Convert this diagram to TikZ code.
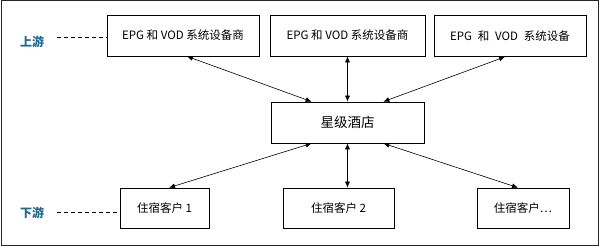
\documentclass[tikz,border=0pt]{standalone}
\usepackage{fontspec}
\setmainfont{Noto Sans CJK SC}
\usetikzlibrary{arrows.meta,positioning}

\begin{document}
\begin{tikzpicture}[
    x=1pt, y=-1pt,
    font=\fontsize{11.5}{13}\selectfont,
    >=Latex,
    link/.style={draw=black, line width=0.6pt,
        {Latex[length=6pt,width=5pt]}-{Latex[length=6pt,width=5pt]}},
    guide/.style={draw=black, line width=0.6pt, dash pattern=on 4pt off 3pt},
    party/.style={
        draw=black,
        line width=0.7pt,
        fill=white,
        minimum height=41pt,
        inner sep=2pt,
        align=center
    },
    hub/.style={
        party,
        font=\fontsize{13.5}{15}\selectfont
    },
    tier/.style={
        font=\fontsize{12}{14}\selectfont\bfseries,
        text=tiercolor,
        inner sep=1pt
    }
]
\definecolor{tiercolor}{HTML}{1F6B8E}

\useasboundingbox (0,0) rectangle (602,246);
\draw[line width=1pt, draw=black!85] (1,1) rectangle (598,245);

% upstream suppliers
\node[party, minimum width=152pt] (up1) at (183,35.5)
{EPG 和 VOD 系统设备商};
\node[party, minimum width=155pt] (up2) at (347.5,35.5)
{EPG 和 VOD 系统设备商};
\node[party, minimum width=152pt] (up3) at (510,36)
{EPG\enspace 和\enspace VOD\enspace 系统设备};

% hotel in the middle
\node[hub, minimum width=153pt] (hotel) at (347.5,122.5) {星级酒店};

% downstream guests
\node[party, minimum width=89pt, minimum height=40pt] (down1) at (164.5,208)
{住宿客户 1};
\node[party, minimum width=111pt, minimum height=40pt] (down2) at (338.5,208)
{住宿客户 2};
\node[party, minimum width=92pt, minimum height=40pt] (down3) at (523,208)
{住宿客户…};

% tier labels
\node[tier] (upper) at (32,42) {上游};
\node[tier] (lower) at (32,213) {下游};
\coordinate (upmark) at (57,37);
\coordinate (downmark) at (57,212);
\draw[guide] (upmark) -- (upmark -| up1.west);
\draw[guide] (downmark) -- (downmark -| down1.west);

\draw[link] ([xshift=4pt]up1.south) -- ([xshift=41pt]hotel.north west);
\draw[link] (up2.south) -- (hotel.north);
\draw[link] ([xshift=-5pt]up3.south) -- ([xshift=-41pt]hotel.north east);
\draw[link] ([xshift=41pt]hotel.south west) -- ([xshift=4.5pt]down1.north);
\draw[link] (hotel.south) -- (hotel.south |- down2.north);
\draw[link] ([xshift=-41pt]hotel.south east) -- ([xshift=-5pt]down3.north);

\end{tikzpicture}
\end{document}
